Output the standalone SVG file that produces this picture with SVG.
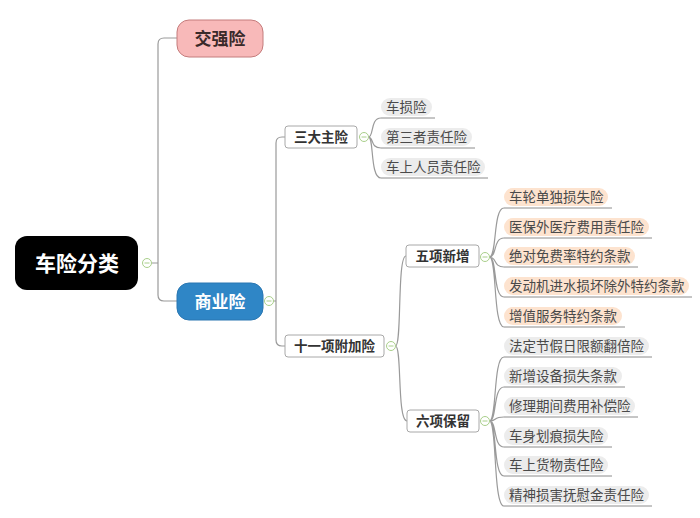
<svg xmlns="http://www.w3.org/2000/svg" width="700" height="518" viewBox="0 0 700 518">
<style>
.t{font-family:"Noto Sans CJK SC","Noto Sans",sans-serif}
.lbl{font-size:13.5px;fill:#4a4a4a}
.b{font-weight:bold}
.box{fill:#fff;stroke:#a8a8a8;stroke-width:1}
.con{fill:none;stroke:#9a9a9a;stroke-width:1.2}
.ul{fill:none;stroke:#8c8c8c;stroke-width:1}
.pg{fill:#ececec}
.pp{fill:#fde3cf}
.tog{fill:#fff;stroke:#a9cf8a;stroke-width:1}
.tm{stroke:#a9cf8a;stroke-width:1}
</style>
<rect width="700" height="518" fill="#fff"/>
<g id="connectors">
<path class="con" d="M151.5,263 H158 M158,263 V44 Q158,38 164,38 H177 M158,263 V295 Q158,301 164,301 H177"/>
<path class="con" d="M273.5,301 H276 M276,301 V143 Q276,137 282,137 H285 M276,301 V340 Q276,346 282,346 H285"/>
<path class="con" d="M368.5,137 C374,137 370,118 381,118 M368.5,137 C374,137 370,148 381,148 M368.5,137 C374,137 370,178 381,178"/>
<path class="con" d="M395.5,346 C402,346 397,256 406,256 M395.5,346 C402,346 397,421 407,421"/>
<path class="con" d="M489.5,257 C497,257 493,208 504,208 M489.5,257 C497,257 493,238 504,238 M489.5,257 C497,257 493,267 504,267 M489.5,257 C497,257 493,297 504,297 M489.5,257 C497,257 493,327 504,327"/>
<path class="con" d="M489.5,421 C497,421 493,357 504,357 M489.5,421 C497,421 493,387 504,387 M489.5,421 C497,421 493,417 504,417 M489.5,421 C497,421 493,447 504,447 M489.5,421 C497,421 493,476 504,476 M489.5,421 C497,421 493,506 504,506"/>
</g>
<g id="root">
<rect x="15" y="236" width="123" height="54" rx="12" fill="#000"/>
<text class="t b" x="77" y="271" font-size="21" fill="#fff" text-anchor="middle">车险分类</text>
<circle class="tog" cx="147" cy="263" r="4.5"/><path class="tm" d="M144.5,263 H149.5"/>
</g>
<g id="jiaoqiang">
<rect x="177" y="20" width="86" height="37" rx="12" fill="#f8b9b9" stroke="#c47c7c" stroke-width="1"/>
<text class="t b" x="220" y="45" font-size="17" fill="#3a2a2a" text-anchor="middle">交强险</text>
</g>
<g id="shangye">
<rect x="177" y="283" width="86" height="37" rx="12" fill="#2f86c6" stroke="#2a77b2" stroke-width="1"/>
<text class="t b" x="220" y="308" font-size="17" fill="#fff" text-anchor="middle">商业险</text>
<circle class="tog" cx="269" cy="301" r="4.5"/><path class="tm" d="M266.5,301 H271.5"/>
</g>
<g id="sanda">
<rect class="box" x="285" y="126" width="72" height="22" rx="3"/>
<text class="t b" x="321" y="142" font-size="13.5" fill="#333" text-anchor="middle">三大主险</text>
<circle class="tog" cx="364" cy="137" r="4.5"/><path class="tm" d="M361.5,137 H366.5"/>
</g>
<g id="chesun"><rect class="pg" x="381" y="98" width="51" height="18" rx="9"/><path class="ul" d="M381,118 H435"/><text class="t lbl" x="386" y="112">车损险</text></g>
<g id="disanzhe"><rect class="pg" x="381" y="128" width="91" height="18" rx="9"/><path class="ul" d="M381,148 H475"/><text class="t lbl" x="386" y="142">第三者责任险</text></g>
<g id="cheshangrenyuan"><rect class="pg" x="381" y="158" width="104" height="18" rx="9"/><path class="ul" d="M381,178 H488"/><text class="t lbl" x="386" y="172">车上人员责任险</text></g>
<g id="shiyi">
<rect class="box" x="285" y="335" width="99" height="22" rx="3"/>
<text class="t b" x="334.5" y="351" font-size="13.5" fill="#333" text-anchor="middle">十一项附加险</text>
<circle class="tog" cx="391" cy="346" r="4.5"/><path class="tm" d="M388.5,346 H393.5"/>
</g>
<g id="wuxiang">
<rect class="box" x="406" y="245" width="73" height="22" rx="3"/>
<text class="t b" x="442.5" y="261" font-size="13.5" fill="#333" text-anchor="middle">五项新增</text>
<circle class="tog" cx="485" cy="257" r="4.5"/><path class="tm" d="M482.5,257 H487.5"/>
</g>
<g id="liuxiang">
<rect class="box" x="407" y="410" width="72" height="22" rx="3"/>
<text class="t b" x="443" y="426" font-size="13.5" fill="#333" text-anchor="middle">六项保留</text>
<circle class="tog" cx="485" cy="421" r="4.5"/><path class="tm" d="M482.5,421 H487.5"/>
</g>
<g id="w1"><rect class="pp" x="504" y="188" width="104" height="18" rx="9"/><path class="ul" d="M504,208 H612"/><text class="t lbl" x="509" y="202">车轮单独损失险</text></g>
<g id="w2"><rect class="pp" x="504" y="218" width="145" height="18" rx="9"/><path class="ul" d="M504,238 H652"/><text class="t lbl" x="509" y="232">医保外医疗费用责任险</text></g>
<g id="w3"><rect class="pp" x="504" y="247" width="131" height="18" rx="9"/><path class="ul" d="M504,267 H638"/><text class="t lbl" x="509" y="261">绝对免费率特约条款</text></g>
<g id="w4"><rect class="pp" x="504" y="277" width="185" height="18" rx="9"/><path class="ul" d="M504,297 H692"/><text class="t lbl" x="509" y="291">发动机进水损坏除外特约条款</text></g>
<g id="w5"><rect class="pp" x="504" y="307" width="118" height="18" rx="9"/><path class="ul" d="M504,327 H625"/><text class="t lbl" x="509" y="321">增值服务特约条款</text></g>
<g id="l1"><rect class="pg" x="504" y="337" width="145" height="18" rx="9"/><path class="ul" d="M504,357 H652"/><text class="t lbl" x="509" y="351">法定节假日限额翻倍险</text></g>
<g id="l2"><rect class="pg" x="504" y="367" width="118" height="18" rx="9"/><path class="ul" d="M504,387 H625"/><text class="t lbl" x="509" y="381">新增设备损失条款</text></g>
<g id="l3"><rect class="pg" x="504" y="397" width="131" height="18" rx="9"/><path class="ul" d="M504,417 H638"/><text class="t lbl" x="509" y="411">修理期间费用补偿险</text></g>
<g id="l4"><rect class="pg" x="504" y="427" width="104" height="18" rx="9"/><path class="ul" d="M504,447 H612"/><text class="t lbl" x="509" y="441">车身划痕损失险</text></g>
<g id="l5"><rect class="pg" x="504" y="456" width="104" height="18" rx="9"/><path class="ul" d="M504,476 H612"/><text class="t lbl" x="509" y="470">车上货物责任险</text></g>
<g id="l6"><rect class="pg" x="504" y="486" width="145" height="18" rx="9"/><path class="ul" d="M504,506 H652"/><text class="t lbl" x="509" y="500">精神损害抚慰金责任险</text></g>
</svg>
